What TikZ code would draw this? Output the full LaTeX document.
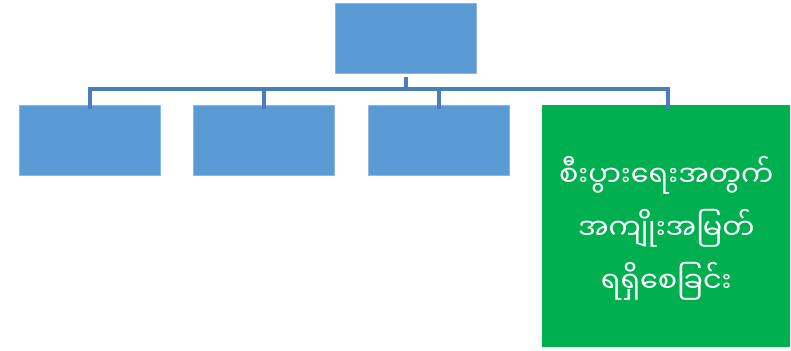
\documentclass[tikz,border=0pt]{standalone}
\usepackage{fontspec}
\newfontfamily\myfont[Script=Myanmar]{Noto Sans Myanmar UI}
\definecolor{boxblue}{HTML}{5B9BD5}
\definecolor{boxedge}{HTML}{8DB6E2}
\definecolor{linkblue}{HTML}{4A7EBB}
\definecolor{boxgreen}{HTML}{00B050}
\begin{document}
\begin{tikzpicture}[x=0.75pt,y=-0.75pt,
  bluebox/.style={draw=boxedge,line width=0.6pt,fill=boxblue,minimum width=106pt,minimum height=52.5pt,inner sep=0pt},
  link/.style={draw=linkblue,line width=2.5pt}]
\useasboundingbox (0,0) rectangle (791,350);
\node[bluebox,anchor=north west] (top) at (335,3) {};
\node[bluebox,anchor=north west] (c1) at (19,105) {};
\node[bluebox,anchor=north west] (c2) at (193,105) {};
\node[bluebox,anchor=north west] (c3) at (368,105) {};
\node[fill=boxgreen,anchor=north west,minimum width=186pt,minimum height=181.5pt,inner sep=0pt] (c4) at (542,105) {};
\node[text=white,align=center,font=\myfont\fontsize{21.5pt}{40pt}\selectfont] (t4) at ([yshift=-1.5pt]c4.center) {စီးပွားရေးအတွက်\\အကျိုးအမြတ်\\ရရှိစေခြင်း};
\coordinate (j) at (406,89);
\draw[link] ([yshift=-2.25pt]top.south -| j) -- (j);
\draw[link] ([yshift=-3pt]c1.north) |- (j);
\draw[link] ([yshift=-3pt]c4.north -| 668,0) |- (j);
\draw[link] ([yshift=-3pt]c2.north) -- (c2.north |- j);
\draw[link] ([yshift=-3pt]c3.north -| 439,0) -- (439,89);
\end{tikzpicture}
\end{document}
